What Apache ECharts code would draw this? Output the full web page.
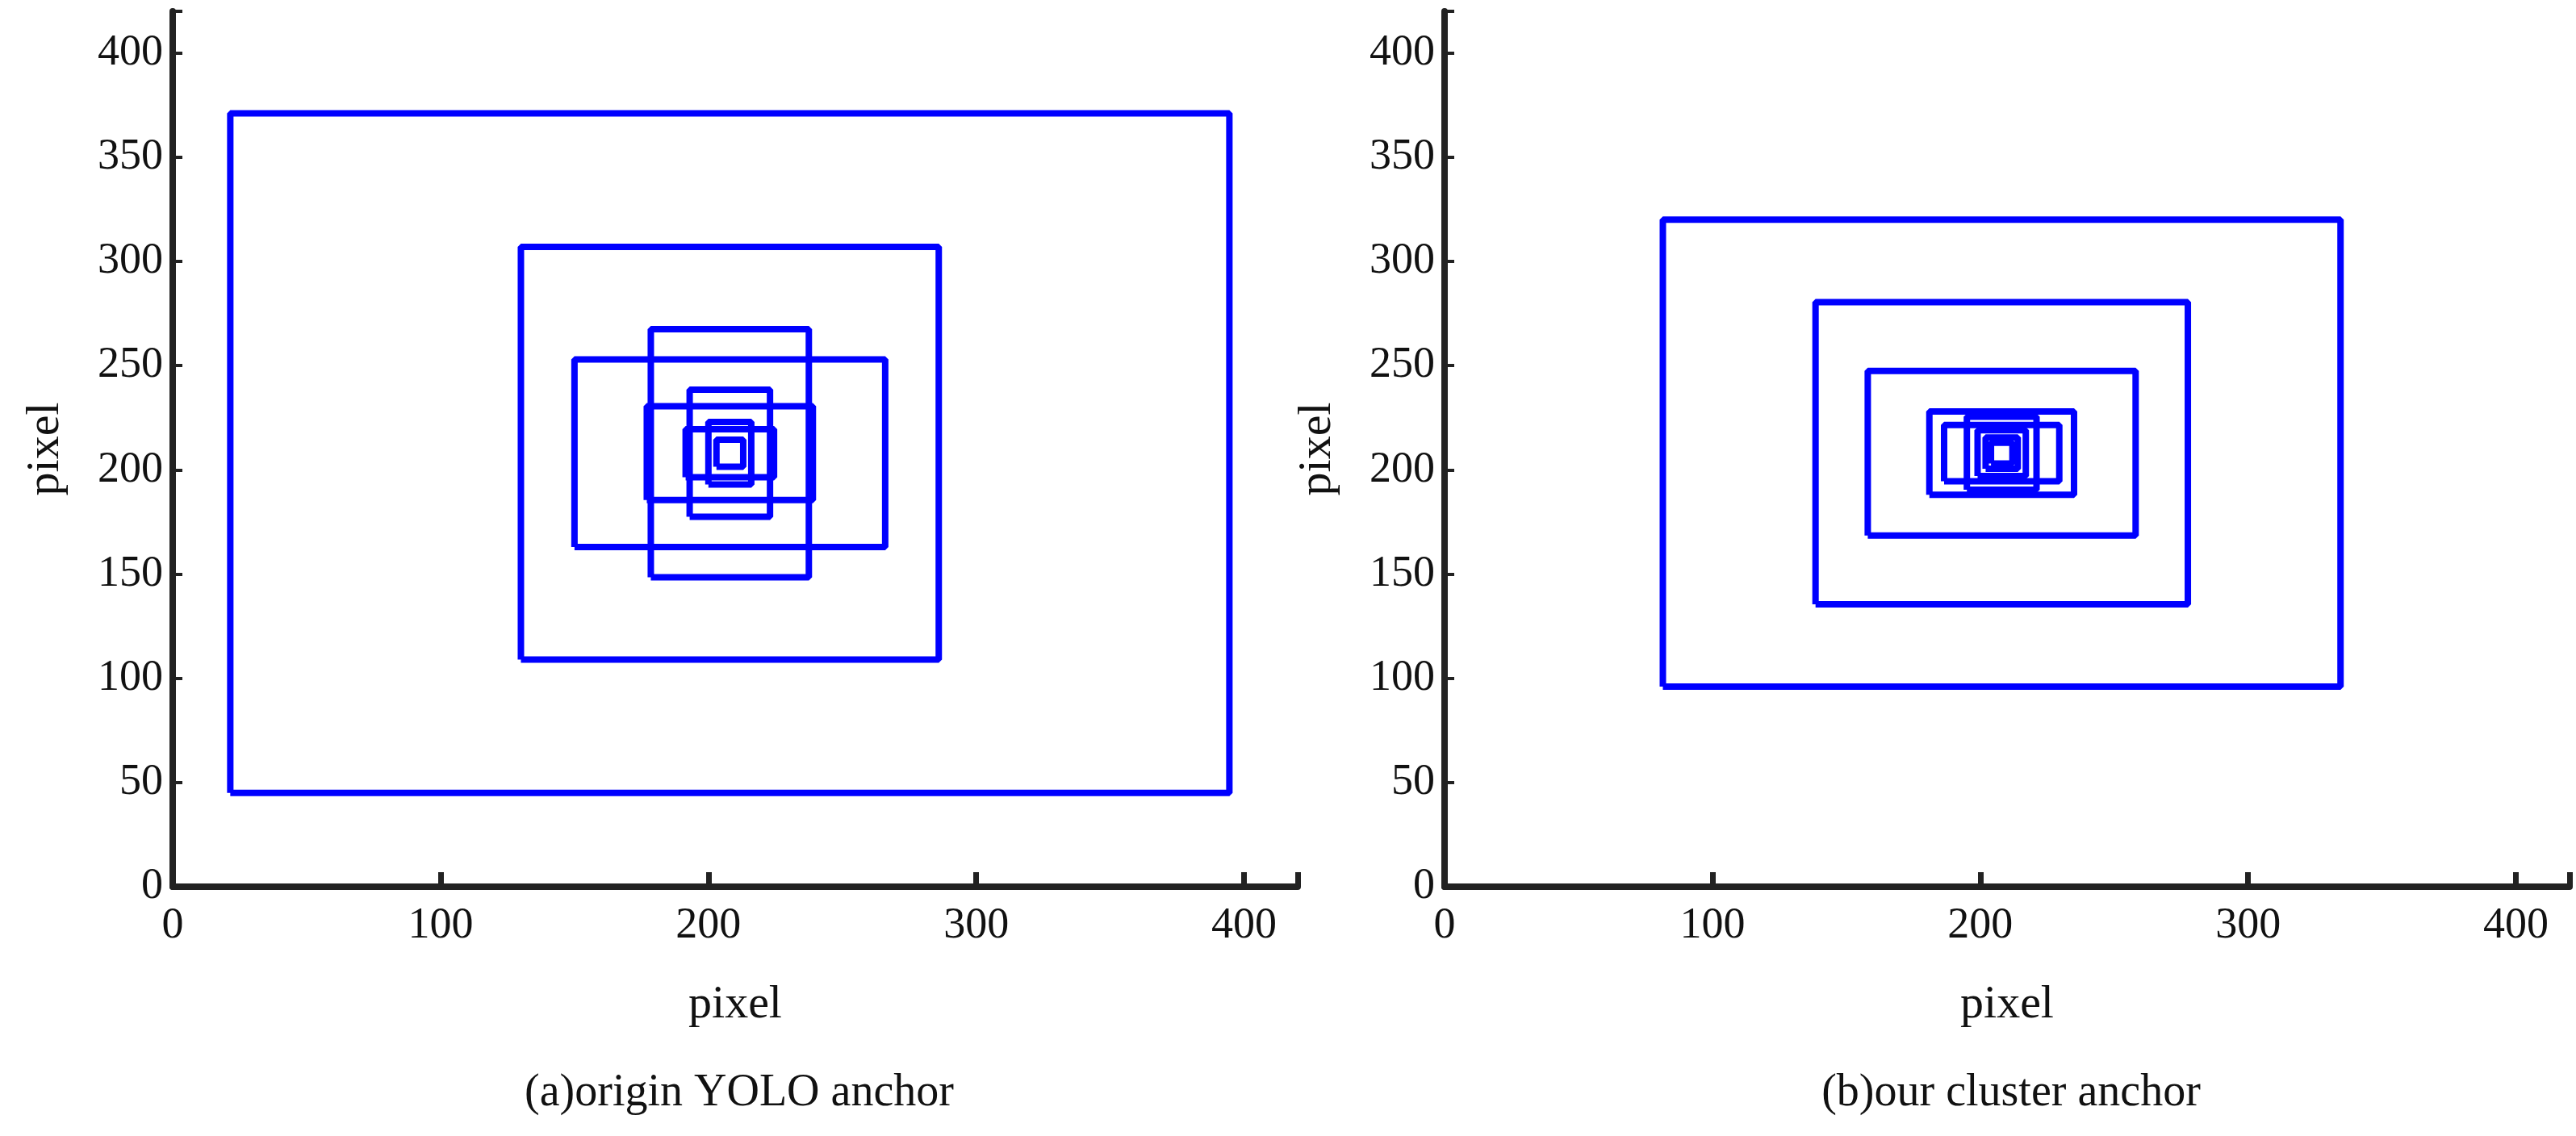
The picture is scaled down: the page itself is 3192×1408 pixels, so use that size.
<!DOCTYPE html>
<html>
<head>
<meta charset="utf-8">
<script src="https://cdn.jsdelivr.net/npm/echarts@6/dist/echarts.min.js"></script>
</head>
<body style="margin:0;background:#fff">
<div id="main" style="width:3192px;height:1408px;"></div>
<script>
// anchor sizes [width, height] in pixels, all centred on the same point
var yoloBoxes = [[373, 326], [156, 198], [116, 90], [59, 119], [62, 45], [30, 61], [33, 23], [16, 30], [10, 13]];
var clusterBoxes = [[253, 224], [139, 145], [100, 79], [54, 40], [43, 27], [26, 35], [18, 22], [12, 15], [8, 10]];
var centre = [208, 208];
var captions = ['(a)origin YOLO anchor', '(b)our cluster anchor'];

var font = 'Liberation Serif';

function boxSeries(boxes, idx) {
    return boxes.map(function (b) {
        var x0 = centre[0] - b[0] / 2, x1 = centre[0] + b[0] / 2;
        var y0 = centre[1] - b[1] / 2, y1 = centre[1] + b[1] / 2;
        return {
            type: 'line', xAxisIndex: idx, yAxisIndex: idx, symbol: 'none', silent: true,
            lineStyle: {color: '#0000ff', width: 8},
            data: [[x0, y0], [x1, y0], [x1, y1], [x0, y1], [x0, y0]]
        };
    });
}

function xAxis(idx) {
    return {
        type: 'value', gridIndex: idx, min: 0, max: 420, interval: 100, name: 'pixel',
        nameLocation: 'middle', nameGap: 118,
        nameTextStyle: {fontFamily: font, fontSize: 58, color: '#111'},
        axisLine: {lineStyle: {color: '#222', width: 8}},
        axisTick: {inside: true, length: 18, lineStyle: {width: 7, color: '#222'}},
        axisLabel: {fontFamily: font, fontSize: 54, color: '#111', margin: 22,
            formatter: function (v) { return v > 400 ? '' : v; }},
        splitLine: {show: false}
    };
}
function yAxis(idx) {
    return {
        type: 'value', gridIndex: idx, min: 0, max: 420, interval: 50, name: 'pixel',
        nameLocation: 'middle', nameGap: 128, nameRotate: 90,
        nameTextStyle: {fontFamily: font, fontSize: 58, color: '#111'},
        axisLine: {lineStyle: {color: '#222', width: 8}},
        axisTick: {inside: true, length: 12, lineStyle: {width: 4, color: '#222'}},
        axisLabel: {fontFamily: font, fontSize: 54, color: '#111', margin: 12,
            formatter: function (v) { return v > 400 ? '' : v; }},
        splitLine: {show: false}
    };
}

var chart = echarts.init(document.getElementById('main'));
chart.setOption({
    animation: false,
    title: [
        {text: captions[0], left: 911, top: 1322, textAlign: 'center', textStyle: {fontFamily: font, fontSize: 56, fontWeight: 'normal', color: '#111'}},
        {text: captions[1], left: 2487, top: 1322, textAlign: 'center', textStyle: {fontFamily: font, fontSize: 56, fontWeight: 'normal', color: '#111'}}
    ],
    grid: [
        {left: 214, width: 1394, top: 14, height: 1085},
        {left: 1790, width: 1394, top: 14, height: 1085}
    ],
    xAxis: [xAxis(0), xAxis(1)],
    yAxis: [yAxis(0), yAxis(1)],
    series: boxSeries(yoloBoxes, 0).concat(boxSeries(clusterBoxes, 1))
});
</script>
</body>
</html>
